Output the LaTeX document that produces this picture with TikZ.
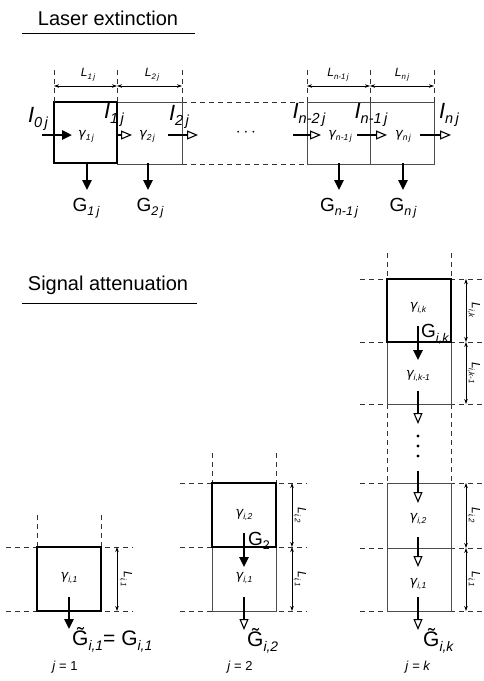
\documentclass[tikz,border=0pt]{standalone}
\usepackage{fontspec}
\usepackage{graphicx}
\setmainfont{Liberation Sans}
\newfontfamily\djv{DejaVu Sans}
\usetikzlibrary{arrows.meta}
\newcommand\sbx[2][0.66]{\raisebox{-0.45ex}{\scalebox{#1}{#2}}}
\newcommand\gm{{\djv\itshape γ}}
\tikzset{
  thickbox/.style={draw=black, line width=1.8pt},
  thinbox/.style={draw=black!70, line width=0.9pt},
  dsh/.style={draw=black!80, line width=0.8pt, dash pattern=on 5pt off 4pt},
  fillarr/.style={line width=2.4pt, -{Triangle[length=10pt,width=9pt]}},
  openarr/.style={line width=2.4pt, -{Triangle[open,length=11pt,width=9pt,line width=1.1pt]}},
  dimarr/.style={line width=0.7pt, {Stealth[length=5pt,width=3.5pt]}-{Stealth[length=5pt,width=3.5pt]}},
  ttl/.style={font=\fontsize{20}{22}\selectfont, inner sep=0pt},
  ilab/.style={font=\fontsize{22}{24}\selectfont\itshape, inner sep=0pt},
  glab/.style={font=\fontsize{19}{21}\selectfont, inner sep=0pt},
  gam/.style={font=\fontsize{13}{14}\selectfont\itshape, inner sep=0pt},
  llab/.style={font=\fontsize{12}{13}\selectfont\itshape, inner sep=0pt},
  jlab/.style={font=\fontsize{13}{14}\selectfont, inner sep=0pt}
}
\begin{document}
\begin{tikzpicture}[x=1pt,y=-1pt]
\useasboundingbox (0,0) rectangle (483,681);

% ---------- Titles ----------
\node[ttl] (t1) at (108,18) {Laser extinction};
\draw[line width=1pt] (22,33) -- (195,33);
\node[ttl] (t2) at (108,285) {Signal attenuation};
\draw[line width=1pt] (22,303) -- (197,303);

% ---------- Laser extinction row ----------
\draw[dsh] (182,102) -- (307,102);
\draw[dsh] (182,164) -- (307,164);
\draw[thinbox] (117,102) rectangle (182,164);
\draw[thinbox] (307,102) rectangle (370,164);
\draw[thinbox] (370,102) rectangle (434,164);
\draw[thickbox] (54,102) rectangle (117,163);
\foreach \xx in {54,117,182,307,370,434}{\draw[dsh] (\xx,70) -- (\xx,102);}
\foreach \xx/\nm in {54/a,117/b,182/c,307/d,370/e,434/f}{\coordinate (d\nm) at (\xx,86);}
\draw[dimarr] (da) -- (db);
\draw[dimarr] (db) -- (dc);
\draw[dimarr] (dd) -- (de);
\draw[dimarr] (de) -- (df);
\node[llab] (L1) at (88,75) {L\sbx{1\,j}};
\node[llab] (L2) at (152,75) {L\sbx{2\,j}};
\node[llab] (L3) at (338,75) {L\sbx{n-1\,j}};
\node[llab] (L4) at (402,75) {L\sbx{n\,j}};

% horizontal arrows
\coordinate (h0s) at (42,135); \coordinate (h0e) at (72,135);
\coordinate (h1s) at (116,135); \coordinate (h1e) at (132,135);
\coordinate (h2s) at (168,135); \coordinate (h2e) at (198,135);
\coordinate (h3s) at (293,135); \coordinate (h3e) at (321,135);
\coordinate (h4s) at (357,135); \coordinate (h4e) at (387,135);
\coordinate (h5s) at (420,135); \coordinate (h5e) at (451,135);
\draw[fillarr] (h0s) -- (h0e);
\draw[openarr, line width=1.2pt] (h1s) -- (h1e);
\draw[openarr] (h2s) -- (h2e);
\draw[openarr] (h3s) -- (h3e);
\draw[openarr] (h4s) -- (h4e);
\draw[openarr] (h5s) -- (h5e);

\node[ilab] (I0) at (38,119) {I\sbx{0\,j}};
\node[ilab] (I1) at (114,115) {I\sbx{1\,j}};
\node[ilab] (I2) at (179,117) {I\sbx{2\,j}};
\node[ilab] (I3) at (309,115) {I\sbx{n-2\,j}};
\node[ilab] (I4) at (371,115) {I\sbx{n-1\,j}};
\node[ilab] (I5) at (449,115) {I\sbx{n\,j}};

\node[gam] (g1) at (86,136) {\gm\sbx{1\,j}};
\node[gam] (g2) at (147,136) {\gm\sbx{2\,j}};
\node[gam] (g3) at (340,136) {\gm\sbx{n-1\,j}};
\node[gam] (g4) at (403,136) {\gm\sbx{n\,j}};
\node[inner sep=0pt, font=\fontsize{18}{18}\selectfont] (dots) at (246,133) {$\cdots$};

% downward G arrows
\foreach \xx/\nm in {87/a,148/b,339/c,403/d}{
  \coordinate (gs\nm) at (\xx,163); \coordinate (ge\nm) at (\xx,190);
  \draw[fillarr] (gs\nm) -- (ge\nm);}
\node[glab] (G1) at (86,208) {G\sbx{\itshape 1\,j}};
\node[glab] (G2) at (150,208) {G\sbx{\itshape 2\,j}};
\node[glab] (G3) at (339,208) {G\sbx{\itshape n-1\,j}};
\node[glab] (G4) at (403,208) {G\sbx{\itshape n\,j}};

% ---------- Signal attenuation: j = 1 ----------
\draw[dsh] (6,547) -- (133,547);
\draw[dsh] (6,611) -- (133,611);
\draw[dsh] (37,515) -- (37,547);
\draw[dsh] (101,515) -- (101,547);
\draw[thickbox] (37,547) rectangle (101,611);
\coordinate (a1t) at (117,547); \coordinate (a1b) at (117,611);
\draw[dimarr] (a1t) -- (a1b);
\node[llab, rotate=-90] (aL1) at (126,579) {L\sbx{i,1}};
\node[gam] (ag1) at (69,578) {\gm\sbx{i,1}};
\coordinate (aas) at (69,597); \coordinate (aae) at (69,629);
\draw[fillarr] (aas) -- (aae);
\node[glab, anchor=west, font=\fontsize{21}{23}\selectfont] (aG) at (72,640) {\~{G}\sbx{\itshape i,1}= G\sbx{\itshape i,1}};
\node[jlab] (j1) at (65,667) {\textit{j} = 1};

% ---------- j = 2 ----------
\foreach \yy in {483,547,611}{\draw[dsh] (180,\yy) -- (307,\yy);}
\draw[dsh] (212,453) -- (212,483);
\draw[dsh] (276,453) -- (276,483);
\draw[thinbox] (212,547) rectangle (276,611);
\draw[thickbox] (212,483) rectangle (276,547);
\coordinate (b2t) at (292,483); \coordinate (b2m) at (292,547); \coordinate (b2b) at (292,611);
\draw[dimarr] (b2t) -- (b2m);
\draw[dimarr] (b2m) -- (b2b);
\node[llab, rotate=-90] (bL2) at (300,515) {L\sbx{i,2}};
\node[llab, rotate=-90] (bL1) at (300,579) {L\sbx{i,1}};
\node[gam] (bg2) at (244,515) {\gm\sbx{i,2}};
\node[gam] (bg1) at (244,578) {\gm\sbx{i,1}};
\coordinate (bfs) at (244,533); \coordinate (bfe) at (244,567);
\draw[fillarr] (bfs) -- (bfe);
\node[glab, anchor=west] (bG2) at (248,541) {G\sbx{2}};
\coordinate (bos) at (244,597); \coordinate (boe) at (244,630);
\draw[openarr] (bos) -- (boe);
\node[glab, anchor=west, font=\fontsize{21}{23}\selectfont] (bGt) at (247,641) {\~{G}\sbx{\itshape i,2}};
\node[jlab] (j2) at (240,667) {\textit{j} = 2};

% ---------- j = k ----------
\foreach \yy in {279,342,404,483,548,611}{\draw[dsh] (360,\yy) -- (483,\yy);}
\draw[dsh] (387,253) -- (387,279);
\draw[dsh] (451,253) -- (451,279);
\draw[dsh] (387,404) -- (387,483);
\draw[dsh] (451,404) -- (451,483);
\draw[thinbox] (387,342) rectangle (451,404);
\draw[thinbox] (387,483) rectangle (451,548);
\draw[thinbox] (387,548) rectangle (451,611);
\draw[thickbox] (387,279) rectangle (451,342);
\foreach \yy/\nm in {279/a,342/b,404/c,483/d,548/e,611/f}{\coordinate (k\nm) at (466,\yy);}
\draw[dimarr] (ka) -- (kb);
\draw[dimarr] (kb) -- (kc);
\draw[dimarr] (kd) -- (ke);
\draw[dimarr] (ke) -- (kf);
\node[llab, rotate=-90] (kL1) at (474,310) {L\sbx{i,k}};
\node[llab, rotate=-90] (kL2) at (474,373) {L\sbx{i,k-1}};
\node[llab, rotate=-90] (kL3) at (474,515) {L\sbx{i,2}};
\node[llab, rotate=-90] (kL4) at (474,579) {L\sbx{i,1}};
\node[gam] (kg1) at (418,308) {\gm\sbx{i,k}};
\node[gam] (kg2) at (418,376) {\gm\sbx{i,k-1}};
\node[gam] (kg3) at (418,519) {\gm\sbx{i,2}};
\node[gam] (kg4) at (418,584) {\gm\sbx{i,1}};
\coordinate (kfs) at (418,326); \coordinate (kfe) at (418,360);
\draw[fillarr] (kfs) -- (kfe);
\node[glab, anchor=west] (kG) at (421,334) {G\sbx{\itshape i,k}};
\coordinate (ko1s) at (418,391); \coordinate (ko1e) at (418,424);
\draw[openarr] (ko1s) -- (ko1e);
\foreach \yy in {436,446,456}{\fill (418,\yy) circle[radius=1.6pt];}
\coordinate (ko2s) at (418,471); \coordinate (ko2e) at (418,503);
\draw[openarr] (ko2s) -- (ko2e);
\coordinate (ko3s) at (418,537); \coordinate (ko3e) at (418,567);
\draw[openarr] (ko3s) -- (ko3e);
\coordinate (ko4s) at (418,597); \coordinate (ko4e) at (418,630);
\draw[openarr] (ko4s) -- (ko4e);
\node[glab, anchor=west, font=\fontsize{21}{23}\selectfont] (kGt) at (423,641) {\~{G}\sbx{\itshape i,k}};
\node[jlab] (jk) at (418,667) {\textit{j} = \textit{k}};
\end{tikzpicture}
\end{document}
